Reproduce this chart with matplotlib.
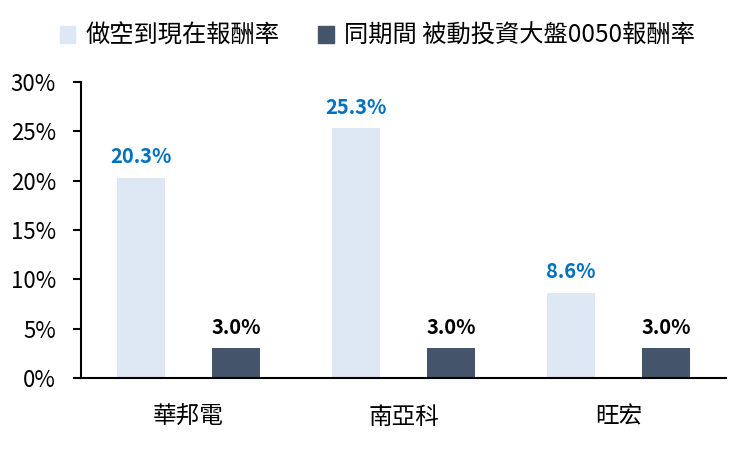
import matplotlib
matplotlib.use("Agg")
import matplotlib.pyplot as plt
import numpy as np
from matplotlib.patches import Patch

plt.rcParams['font.family'] = ['Noto Sans CJK TC', 'DejaVu Sans']

categories = ["華邦電", "南亞科", "旺宏"]
short_returns = [20.3, 25.3, 8.6]
etf_returns = [3.0, 3.0, 3.0]
series_names = ["做空到現在報酬率", "同期間 被動投資大盤0050報酬率"]
yticks = [0, 5, 10, 15, 20, 25, 30]

light = "#DDE8F4"
dark = "#44546A"

fig = plt.figure(figsize=(7.51, 4.51), dpi=100)
ax = fig.add_axes([0.1079, 0.1619, 0.8588, 0.6563])

x = np.arange(len(categories))
w = 0.223
b1 = ax.bar(x - w, short_returns, w, color=light)
b2 = ax.bar(x + w, etf_returns, w, color=dark)

for rect, v in zip(b1, short_returns):
    ax.text(rect.get_x() + rect.get_width() / 2, v + 1.1, f"{v:.1f}%",
            ha="center", va="bottom", color="#0070C0", fontsize=14.5, fontweight="bold")
for rect, v in zip(b2, etf_returns):
    ax.text(rect.get_x() + rect.get_width() / 2, v + 1.1, f"{v:.1f}%",
            ha="center", va="bottom", color="black", fontsize=14.5, fontweight="bold")

ax.set_xlim(-0.5, len(categories) - 0.5)
ax.set_ylim(0, 30)
ax.set_yticks(yticks)
ax.set_yticklabels([f"{t}%" for t in yticks], fontsize=16)
ax.set_xticks(x)
ax.set_xticklabels(categories, fontsize=17)
ax.tick_params(axis="x", length=0, pad=20)
ax.tick_params(axis="y", length=6, width=1.5, pad=12, direction="out")
for s in ["top", "right"]:
    ax.spines[s].set_visible(False)
ax.spines["left"].set_linewidth(1.5)
ax.spines["bottom"].set_linewidth(1.5)

handles = [Patch(color=light), Patch(color=dark)]
fig.legend(handles, series_names, loc="center", bbox_to_anchor=(0.502, 0.92), ncol=2,
           frameon=False, fontsize=17.5, handlelength=0.65, handleheight=0.65,
           handletextpad=0.4, columnspacing=1.6)

fig.savefig("out.png", dpi=100)
